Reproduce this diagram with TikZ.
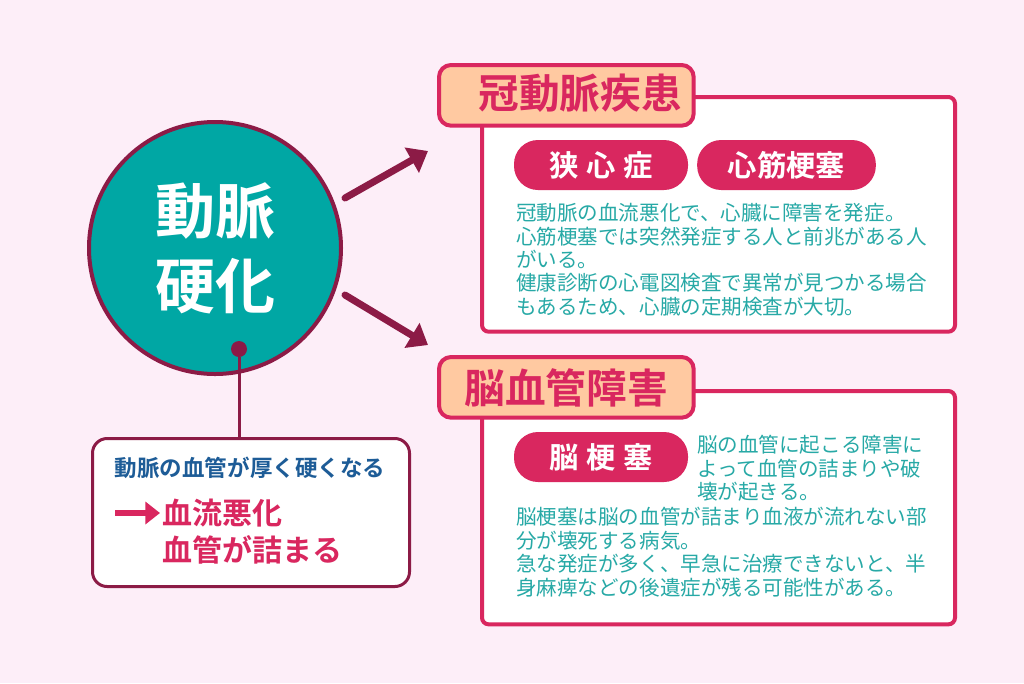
\documentclass[tikz,border=0pt]{standalone}
\usepackage{fontspec}
\setmainfont{Noto Sans CJK JP}[BoldFont={Noto Sans CJK JP Bold}]
\usepackage{tikz}
\usetikzlibrary{arrows.meta, positioning, calc}
\definecolor{bgpink}{HTML}{FDEEF8}
\definecolor{arterymaroon}{HTML}{8C1B46}
\definecolor{diseasered}{HTML}{D9275F}
\definecolor{tabpeach}{HTML}{FFC9A1}
\definecolor{circleteal}{HTML}{00A7A4}
\definecolor{bodyteal}{HTML}{27A9A6}
\definecolor{noteblue}{HTML}{1D5C97}
\tikzstyle{panel} = [
  rectangle, draw=diseasered, fill=white, line width=3pt,
  rounded corners=5pt, anchor=north west, inner sep=0pt,
  minimum width=354.75pt, minimum height=176pt
]
\tikzstyle{tab} = [
  rectangle, draw=diseasered, fill=tabpeach, line width=3pt,
  rounded corners=9pt, anchor=north west, inner sep=0pt,
  minimum width=191pt, minimum height=45.5pt
]
\tikzstyle{tabtitle} = [
  text=diseasered, inner sep=0pt,
  font=\bfseries\fontsize{30.5}{36}\selectfont
]
\tikzstyle{pill} = [
  rectangle, fill=diseasered, text=white,
  rounded corners=18pt, minimum height=37.5pt, inner sep=0pt,
  font=\bfseries\fontsize{22}{26}\selectfont
]
\tikzstyle{body} = [
  text=bodyteal, align=left, anchor=north west, inner sep=0pt,
  font=\fontsize{15.4}{17.6}\selectfont
]
\tikzstyle{arrow} = [-{Triangle[length=14pt, width=21pt]}, line width=5.25pt, draw=arterymaroon, line cap=round]
\tikzstyle{flowarrow} = [-{Triangle[length=11pt, width=16.5pt]}, line width=4.5pt, draw=diseasered]

\begin{document}
\begin{tikzpicture}[x=0.75pt, y=-0.75pt]

  % Background
  \fill[bgpink] (0,0) rectangle (1024,683);
  \useasboundingbox (0,0) rectangle (1024,683);

  % Arteriosclerosis
  \node[circle, draw=arterymaroon, line width=3pt, fill=circleteal, minimum size=189pt,
        text=white, align=center, font=\bfseries\fontsize{45}{56}\selectfont] (artery) at (215,248) {動脈\\硬化};
  \node[circle, fill=arterymaroon, minimum size=12pt, inner sep=0pt] (dot) at (239,349) {};

  % Note box
  \node[rectangle, draw=arterymaroon, fill=white, line width=2.25pt, rounded corners=11pt,
        anchor=north west, minimum width=237.75pt, minimum height=111pt] (notebox) at (91,437) {};
  \node[text=noteblue, font=\bfseries\fontsize{16.9}{20}\selectfont, inner sep=0pt] (notetxt) at (250,468) {動脈の血管が厚く硬くなる};
  \node[text=diseasered, font=\bfseries\fontsize{22.5}{27}\selectfont, anchor=west, inner sep=0pt] (flowtxt) at (162,513) {血流悪化};
  \node[text=diseasered, font=\bfseries\fontsize{22.5}{27}\selectfont, anchor=west, inner sep=0pt] (clogtxt) at (162,550) {血管が詰まる};
  \coordinate (flowstart) at (115,513);

  % Coronary panel
  \node[panel] (cadbox) at (480,95) {};
  \node[tab] (cadtab) at (437,63) {};
  \node[tabtitle] (cadtitle) at (580,93) {冠動脈疾患};
  \node[pill, minimum width=130.5pt] (angina) at (601,165) {狭\hspace{6pt}心\hspace{6pt}症};
  \node[pill, minimum width=134pt] (infarct) at (786.5,165) {心筋梗塞};
  \node[body] (cadtxt) at (516,203) {冠動脈の血流悪化で、心臓に障害を発症。\\心筋梗塞では突然発症する人と前兆がある人\\がいる。\\健康診断の心電図検査で異常が見つかる場合\\もあるため、心臓の定期検査が大切。};

  % Cerebrovascular panel
  \node[panel, minimum height=175pt] (cvdbox) at (480,389) {};
  \node[tab] (cvdtab) at (437,355) {};
  \node[tabtitle] (cvdtitle) at (566,388) {脳血管障害};
  \node[pill, minimum width=130.5pt] (stroke) at (601,457) {脳\hspace{6pt}梗\hspace{6pt}塞};
  \node[body] (cvdside) at (697,435) {脳の血管に起こる障害に\\よって血管の詰まりや破\\壊が起きる。};
  \node[body] (cvdtxt) at (516,507) {脳梗塞は脳の血管が詰まり血液が流れない部\\分が壊死する病気。\\急な発症が多く、早急に治療できないと、半\\身麻痺などの後遺症が残る可能性がある。};

  % Connections
  \coordinate (cadstart) at (345,198);
  \coordinate (cadtip) at (428,151);
  \coordinate (cvdstart) at (345,295);
  \coordinate (cvdtip) at (428,345);
  \draw[arrow] (cadstart) -- (cadtip);
  \draw[arrow] (cvdstart) -- (cvdtip);
  \draw[arterymaroon, line width=2.25pt] (dot) -- (dot |- notebox.north);
  \draw[flowarrow, shorten >=1.5pt] (flowstart) -- (flowtxt.west);

\end{tikzpicture}
\end{document}
